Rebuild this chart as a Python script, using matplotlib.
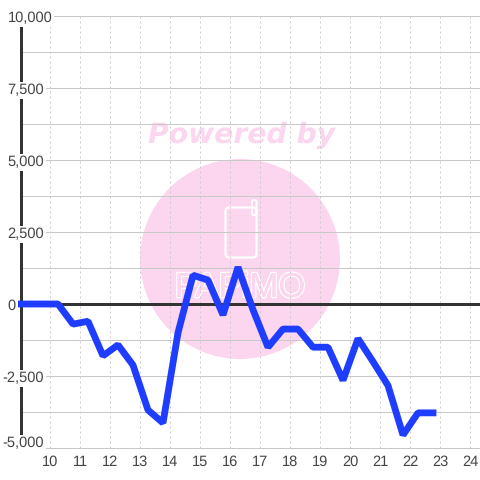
import matplotlib
matplotlib.use("Agg")
import matplotlib.pyplot as plt
import matplotlib.patheffects as pe
from matplotlib.patches import Circle, FancyBboxPatch
from matplotlib.transforms import Bbox, blended_transform_factory

plt.rcParams["text.hinting"] = "no_hinting"

hours = [8.75, 9.25, 9.75, 10.25, 10.75, 11.25, 11.75, 12.25, 12.75, 13.25, 13.75, 14.25, 14.75,
         15.25, 15.75, 16.25, 16.75, 17.25, 17.75, 18.25, 18.75, 19.25, 19.75, 20.25, 20.75,
         21.25, 21.75, 22.25, 22.75]
values = [0, 0, 0, 0, -700, -600, -1800, -1420, -2120, -3680, -4130, -1000, 1000,
          830, -380, 1280, -200, -1500, -870, -870, -1500, -1500, -2650, -1200, -2000,
          -2830, -4550, -3780, -3780]
x_ticks = list(range(10, 25))
y_labels = [10000, 7500, 5000, 2500, 0, -2500, -5000]
y_grid = [10000, 8750, 7500, 6250, 5000, 3750, 2500, 1250, 0, -1250, -2500, -3750, -5000]

W = H = 480
fig = plt.figure(figsize=(4.8, 4.8), dpi=100, facecolor="white")
ax = fig.add_axes([20.5 / W, (H - 448) / H, (W - 20.5) / W, (448 - 16) / H], zorder=2)
ax.set_xlim(9, 24.317)
ax.set_ylim(-5000, 10000)
for s in ax.spines.values():
    s.set_visible(False)
ax.set_xticks([])
ax.set_yticks([])
ax.patch.set_alpha(0)

# watermark beneath the axes, positioned in figure pixels
pink = "#fcd5ee"
ft = fig.transFigure
sx = lambda p: p / W
sy = lambda p: (H - p) / H
px = 72 / 100
fig.add_artist(Circle((240, H - 259), 100, transform=None, facecolor=pink, edgecolor="none", zorder=-2))
fig.add_artist(FancyBboxPatch((225.5, H - 257.5), 31, 50, boxstyle="round,pad=0,rounding_size=4", transform=None,
                              facecolor="none", edgecolor="white", linewidth=1.6, zorder=-1))
fig.add_artist(FancyBboxPatch((252, H - 215), 4.5, 15, boxstyle="round,pad=0,rounding_size=2", transform=None,
                              facecolor="none", edgecolor="white", linewidth=1.4, zorder=-1))
fig.text(sx(242), sy(135), "Powered by", color=pink, fontsize=20.3, fontweight="bold", style="italic",
         family="DejaVu Sans", ha="center", va="center", zorder=-1)
t = fig.text(sx(240), sy(288), "PAPiMO", color=pink, fontsize=25, family="Liberation Sans",
             ha="center", va="center", zorder=-1)
t.set_path_effects([pe.withStroke(linewidth=2.0, foreground="white"), pe.Normal()])

for v in y_grid:
    ax.axhline(v, color="#c8c8c8", lw=0.72, zorder=1, clip_on=False)
for h in x_ticks:
    ax.axvline(h, color="#cccccc", lw=0.72, ls=(0, (2, 3)), zorder=1)
ax.axhline(0, color="#333333", lw=2.16, zorder=2)
ax.axvline(9, color="#333333", lw=2.16, zorder=2, clip_on=False)

line, = ax.plot(hours, values, color="#1f3dff", lw=4.9, solid_joinstyle="bevel", solid_capstyle="projecting", zorder=4)
line.set_clip_box(Bbox.from_extents(17.5, 0, 480, 480))

lab = dict(family="Liberation Sans", fontsize=10.5, color="#444444")
ty = blended_transform_factory(ft, ax.transData)
tx = blended_transform_factory(ax.transData, ft)
for v in y_labels:
    left = 2.5 if v < 0 else 7.5
    drop = -1 if v == y_labels[-1] else 6
    ax.annotate(f"{v:,}", xy=(sx(left), v), xycoords=ty, xytext=(0, -drop * px), textcoords="offset points",
                ha="left", va="baseline", annotation_clip=False,
                bbox=dict(facecolor="white", edgecolor="none", pad=1.2), zorder=3, **lab)
for h in x_ticks:
    ax.text(h, sy(466), str(h), transform=tx, ha="center", va="baseline", clip_on=False, **lab)

fig.savefig("out.png", dpi=100)
